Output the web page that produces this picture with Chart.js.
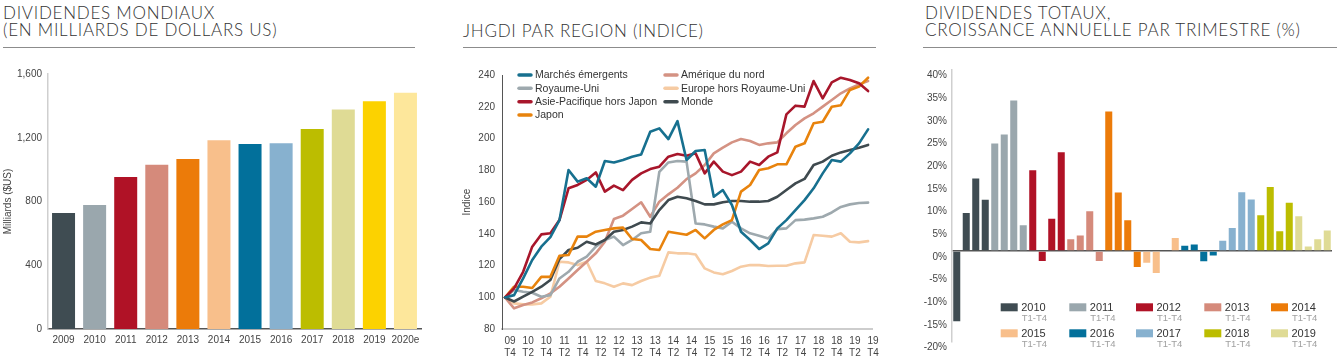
<!DOCTYPE html>
<html><head><meta charset="utf-8">
<script src="https://cdn.jsdelivr.net/npm/chart.js@4.4.1/dist/chart.umd.min.js"></script>
<style>
html,body{margin:0;padding:0;background:#fff;width:1342px;height:360px;overflow:hidden;}
.title{position:absolute;font-family:Lato,'Liberation Sans',sans-serif;font-weight:300;font-size:17px;line-height:16.5px;color:#333;white-space:nowrap;letter-spacing:0.75px;}
.rule{position:absolute;height:1px;background:#8c8c8c;top:47px;}
canvas{position:absolute;top:0;}
</style></head><body>
<div class="title" style="left:3px;top:5px">DIVIDENDES MONDIAUX<br>(EN MILLIARDS DE DOLLARS US)</div>
<div class="rule" style="left:3px;width:412px"></div>
<div class="title" style="left:463px;top:6px">&nbsp;<br>JHGDI PAR REGION (INDICE)</div>
<div class="rule" style="left:463px;width:413px"></div>
<div class="title" style="left:925px;top:5px">DIVIDENDES TOTAUX,<br>CROISSANCE ANNUELLE PAR TRIMESTRE (%)</div>
<div class="rule" style="left:923px;width:414px"></div>
<canvas id="c1" width="425" height="360" style="left:0px"></canvas>
<canvas id="c2" width="440" height="360" style="left:440px"></canvas>
<canvas id="c3" width="442" height="360" style="left:900px"></canvas>
<script>
// ---------- Chart 1 data ----------
const years = ['2009','2010','2011','2012','2013','2014','2015','2016','2017','2018','2019','2020e'];
const dividends = [728, 778, 954, 1031, 1067, 1184, 1161, 1165, 1255, 1378, 1429, 1483];
const yearColors = ['#3f4c52','#9aa7ad','#b01226','#d58a7b','#ec7b09','#f8bf8b','#02709b','#87b1cf','#bcbd00','#dfdb95','#fcd200','#fde79b'];
const yTicks1 = [0, 400, 800, 1200, 1600];

// ---------- Chart 2 data ----------
const quarters = ['09 T4','10 T1','10 T2','10 T3','10 T4','11 T1','11 T2','11 T3','11 T4','12 T1','12 T2','12 T3','12 T4','13 T1','13 T2','13 T3','13 T4','14 T1','14 T2','14 T3','14 T4','15 T1','15 T2','15 T3','15 T4','16 T1','16 T2','16 T3','16 T4','17 T1','17 T2','17 T3','17 T4','18 T1','18 T2','18 T3','18 T4','19 T1','19 T2','19 T3','19 T4'];
const emergents = [100,101.5,112,123.6,132,138,148.7,180.2,172.9,175,169.7,185.9,185,186.5,188.6,190,204.3,206.4,199.7,211,186.5,192.2,192.8,163.4,167.6,158.2,141.4,136.2,130.5,134.1,143.5,148.7,155,161.3,168.7,178.1,186.5,185.5,190.7,197,205.8];
const royaumeUni = [100,104.7,103.6,103,100.5,101.5,112,116.2,122.5,125.7,132,136.2,138.3,133,136.2,140.4,141.4,179,185,185.9,185.5,146.6,146,144.6,143.5,147.7,143.5,140.4,138.9,137.2,143,143.5,148.7,149,149.8,150.8,153.5,157,158.6,159.5,159.7];
const asiePacifique = [100,105.7,116.2,132,139.7,140.4,148.7,168.7,170.8,174,178.7,166.6,170.4,167.6,174,178.1,180.8,182.3,188.6,190.3,189.2,190.7,178.1,185.5,179.2,177,179.2,185.5,183.4,188.6,191.3,215.2,220.7,220.1,236.2,225.3,235.4,238.3,236.9,234.8,229.9];
const japon = [100,106.8,106.8,106,113,113,126.3,126.7,138.3,138.3,141.4,142.5,143.5,144,136.8,136.2,130.5,129.9,141.4,140.4,139.5,142.5,137.2,142.5,146,148.7,166.6,170.8,180.2,181.3,183.8,183.8,194.9,197,209.6,210.6,220,221,230.6,232.7,238.3];
const ameriqueNord = [100,93.2,95.3,96.9,99.5,102.6,106.8,112,117.3,122.5,127.8,135.1,149.4,151.5,155.7,159.9,150.8,160.3,164.9,169.1,174.5,178.1,183.4,190.7,194.3,197.6,199.7,198.5,196,197,197.6,203.3,208.5,212.7,215.9,220.1,224.3,228.5,231.6,234.1,236.2];
const europeHorsRU = [100,96.3,95.7,95.7,96.3,100.5,122.5,122.1,120.4,122.5,110.4,108.9,106.8,108.9,107.8,110.4,112.5,113.7,128.4,127.8,127.8,127.1,118.3,115.8,114.6,116.7,119.4,120.4,120.4,119.8,120,120,121.5,122.1,139.3,138.9,138.3,140.4,135.1,134.7,135.5];
const monde = [100,97.5,100.5,103.6,106.8,111,124.2,129.9,131.3,135.1,133.4,136.2,141.4,142.5,144.6,147.3,146.6,155,161.3,163.4,162.4,160.7,158.6,158.6,159.9,160.7,160.7,160.3,160.3,160.7,163.4,167.6,171.8,174.6,183.4,185.5,189.2,191.3,192.8,194.3,196];
const seriesNames = ['Marchés émergents','Royaume-Uni','Asie-Pacifique hors Japon','Japon','Amérique du nord','Europe hors Royaume-Uni','Monde'];
const seriesColors = ['#17708f','#9ea9ae','#a8162b','#e8830d','#d49283','#f6cba3','#3f4a4f'];

// ---------- Chart 3 data ----------
const growthYears = ['2010','2011','2012','2013','2014','2015','2016','2017','2018','2019'];
const growthSub = ['T1','T2','T3','T4'];
const growth = [-15.5,8.4,16.0,11.3, 23.7,25.7,33.2,5.7, 17.8,-2.2,7.1,21.8, 2.6,3.4,8.75,-2.2, 30.8,12.9,6.8,-3.5, -2.6,-4.85,0,2.85, 1.15,1.45,-2.25,-1.0, 2.25,5.1,12.95,11.35, 7.9,14.1,4.35,10.65, 7.65,1.0,2.6,4.55];
const growthColors = ['#3f4c52','#9aa7ad','#b01226','#d58a7b','#ec7b09','#f8bf8b','#02709b','#87b1cf','#bcbd00','#dfdb95'];

const FONT = "'Liberation Sans', Arial, sans-serif";
Chart.defaults.font.family = FONT;
Chart.defaults.font.size = 10;
Chart.defaults.color = '#444';

// ---------- Chart 1 ----------
new Chart(document.getElementById('c1'), {
  type: 'bar',
  data: { labels: years, datasets: [{ data: dividends, backgroundColor: yearColors, barPercentage: 0.74, categoryPercentage: 1 }] },
  options: {
    responsive: false, animation: false, devicePixelRatio: 1,
    layout: { padding: { top: 74, right: 4, left: 0, bottom: 0 } },
    plugins: { legend: { display: false }, tooltip: { enabled: false } },
    scales: {
      x: { grid: { display: false, drawTicks: false }, border: { color: '#555', width: 1.5 },
           ticks: { color: '#444', padding: 5, maxRotation: 0, autoSkip: false },
           afterFit(s) { s.height = 31; } },
      y: { min: 0, max: 1600,
           afterBuildTicks(s) { s.ticks = yTicks1.map(v => ({ value: v })); },
           ticks: { color: '#444', padding: 6, callback: v => v.toLocaleString('en-US') },
           grid: { display: false, drawTicks: false }, border: { color: '#cfcfcf', width: 1.5 },
           title: { display: true, text: 'Milliards ($US)', color: '#444', font: { size: 10 }, padding: { top: 2, bottom: 0 } },
           afterFit(s) { s.width = 48; } }
    }
  }
});

// ---------- Chart 2 ----------
const seriesData = [emergents, royaumeUni, asiePacifique, japon, ameriqueNord, europeHorsRU, monde];
const legend2 = {
  id: 'legend2',
  afterDraw(chart) {
    const ctx = chart.ctx;
    const cols = [{ mx: 77, tx: 95 }, { mx: 223, tx: 241 }];
    const rowsY = [75, 88.3, 101.7, 115];
    const layout = [[0,0,0],[1,0,1],[2,0,2],[3,0,3],[4,1,0],[5,1,1],[6,1,2]];
    ctx.save();
    ctx.font = '10.5px ' + FONT;
    ctx.textBaseline = 'middle';
    layout.forEach(([k, c, r]) => {
      const y = rowsY[r];
      ctx.strokeStyle = seriesColors[k];
      ctx.lineWidth = 3.5;
      ctx.lineCap = 'round';
      ctx.beginPath(); ctx.moveTo(cols[c].mx + 2, y); ctx.lineTo(cols[c].mx + 14, y); ctx.stroke();
      ctx.fillStyle = '#333';
      ctx.fillText(seriesNames[k], cols[c].tx, y + 0.5);
    });
    ctx.restore();
  }
};
// draw order: later datasets underneath
const drawOrder = [0, 2, 3, 6, 1, 4, 5];
new Chart(document.getElementById('c2'), {
  type: 'line',
  data: {
    datasets: drawOrder.map((k, n) => ({
      label: seriesNames[k],
      data: seriesData[k].map((v, i) => ({ x: i, y: v })),
      borderColor: seriesColors[k], borderWidth: 2.6, pointRadius: 0, tension: 0,
      borderJoinStyle: 'round', borderCapStyle: 'round', fill: false, order: n
    }))
  },
  options: {
    responsive: false, animation: false, devicePixelRatio: 1,
    layout: { padding: { top: 75, right: 7, left: 0, bottom: 0 } },
    plugins: { legend: { display: false }, tooltip: { enabled: false } },
    scales: {
      x: { type: 'linear', min: -0.33, max: 40.44,
           afterBuildTicks(s) { s.ticks = quarters.map((q, i) => ({ value: i })).filter(t => t.value % 2 === 0); },
           ticks: { color: '#444', padding: 6, maxRotation: 0, autoSkip: false, labelOffset: 5,
                    callback: v => (quarters[v] || '').split(' ') },
           grid: { display: false, drawTicks: false }, border: { color: '#cdcdcd', width: 2 },
           afterFit(s) { s.height = 30.7; } },
      y: { min: 80, max: 240,
           afterBuildTicks(s) { const t = []; for (let v = 80; v <= 240; v += 20) t.push({ value: v }); s.ticks = t; },
           ticks: { color: '#444', padding: 7 },
           grid: { display: false, drawTicks: false }, border: { color: '#555', width: 1 },
           title: { display: true, text: 'Indice', color: '#444', font: { size: 10 }, padding: { top: 21, bottom: 0 } },
           afterFit(s) { s.width = 62; } }
    }
  },
  plugins: [legend2]
});

// ---------- Chart 3 ----------
const growthLabels = growthYears.flatMap(y => growthSub.map(q => y + ' ' + q));
const barColors = growth.map((v, i) => growthColors[Math.floor(i / 4)]);
const legend3 = {
  id: 'legend3',
  afterDraw(chart) {
    const ctx = chart.ctx;
    const colX = [100.7, 169.3, 236, 304.3, 371];
    const rowY = [303.3, 329.3];
    ctx.save();
    ctx.textBaseline = 'middle';
    growthYears.forEach((y, k) => {
      const sx = colX[k % 5], sy = rowY[Math.floor(k / 5)];
      ctx.fillStyle = growthColors[k];
      ctx.fillRect(sx, sy, 17, 8);
      ctx.fillStyle = '#333';
      ctx.font = '11px ' + FONT;
      ctx.fillText(y, sx + 20.5, sy + 4.7);
      ctx.fillStyle = '#a0a0a0';
      ctx.font = '9.5px ' + FONT;
      ctx.fillText('T1-T4', sx + 21, sy + 15.5);
    });
    ctx.restore();
  }
};
new Chart(document.getElementById('c3'), {
  type: 'bar',
  data: { labels: growthLabels, datasets: [{ data: growth, backgroundColor: barColors, barPercentage: 0.74, categoryPercentage: 1 }] },
  options: {
    responsive: false, animation: false, devicePixelRatio: 1,
    layout: { padding: { top: 69.7, right: 10, left: 0, bottom: 18.3 } },
    plugins: { legend: { display: false }, tooltip: { enabled: false } },
    scales: {
      x: { display: false },
      y: { min: -20, max: 40,
           afterBuildTicks(s) { const t = []; for (let v = -20; v <= 40; v += 5) t.push({ value: v }); s.ticks = t; },
           ticks: { color: '#444', padding: 5, labelOffset: 6, callback: v => v + '%' },
           grid: { drawTicks: false, lineWidth: 1.5, color: c => (c.tick && c.tick.value === 0) ? '#555' : 'rgba(0,0,0,0)' },
           border: { color: '#cfcfcf', width: 1.5 },
           afterFit(s) { s.width = 52; } }
    }
  },
  plugins: [legend3]
});
</script>
</body></html>
